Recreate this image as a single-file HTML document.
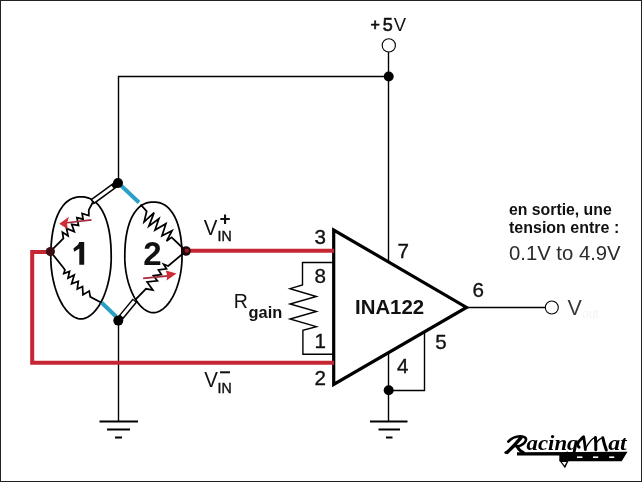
<!DOCTYPE html>
<html><head><meta charset="utf-8">
<style>
html,body{margin:0;padding:0;background:#fff;}
body{width:642px;height:482px;overflow:hidden;position:relative;}
svg{position:absolute;left:0;top:0;display:block;will-change:transform;}
text{font-family:"Liberation Sans",sans-serif;}
</style></head>
<body>
<svg width="642" height="482" viewBox="0 0 642 482">
<rect x="0" y="0" width="642" height="482" fill="#fff"/>
<!-- border -->
<rect x="0.5" y="0.5" width="641" height="481" fill="none" stroke="#222" stroke-width="1"/>

<g fill="none" stroke="#000" stroke-width="1.4">
  <!-- top wires -->
  <polyline points="118.5,183 118.5,76.5 388.5,76.5"/>
  <line x1="388.5" y1="52" x2="388.5" y2="262"/>
  <circle cx="388.8" cy="45.4" r="6.6" stroke-width="1.1"/>
  <!-- bottom wire to ground -->
  <line x1="118.5" y1="320" x2="118.5" y2="421.5"/>
  <!-- ground 4 -->
  <polyline points="388.5,352 388.5,421.5"/>
  <polyline points="424.5,331.5 424.5,390.5 388.5,390.5"/>
  <!-- output -->
  <line x1="467" y1="307.5" x2="545.3" y2="307.5"/>
  <circle cx="551.8" cy="307.5" r="6.5" stroke-width="1.1"/>
  <!-- rgain box -->
  <polyline points="333,262.5 302.5,262.5 302.5,285 290,288.7 316.4,296.5 290,304 316.4,311.5 290,319 316.4,326.7 302.9,330.3 302.9,354.3 333,354.3"/>
</g>
<!-- grounds -->
<g stroke="#000" stroke-width="2">
  <line x1="99.5" y1="421.5" x2="138" y2="421.5"/>
  <line x1="107" y1="429.5" x2="130" y2="429.5"/>
  <line x1="115" y1="437.5" x2="122" y2="437.5"/>
  <line x1="370" y1="421.5" x2="407.5" y2="421.5"/>
  <line x1="378.5" y1="429.5" x2="400" y2="429.5"/>
  <line x1="386" y1="437.5" x2="392.5" y2="437.5"/>
</g>
<!-- triangle -->
<polygon points="333.7,230 333.7,384.5 466.5,307.4" fill="none" stroke="#000" stroke-width="3.2" stroke-linejoin="miter"/>

<!-- ellipses -->
<g fill="none" stroke="#000" stroke-width="1.75">
  <path d="M111.20,257.90 L111.16,260.63 L111.03,263.56 L110.81,266.55 L110.51,269.58 L110.12,272.60 L109.65,275.62 L109.09,278.61 L108.46,281.56 L107.75,284.47 L106.96,287.31 L106.09,290.08 L105.16,292.77 L104.16,295.36 L103.10,297.86 L101.97,300.25 L100.78,302.53 L99.55,304.68 L98.26,306.70 L96.93,308.59 L95.56,310.33 L94.15,311.92 L92.72,313.36 L91.25,314.64 L89.77,315.76 L88.28,316.71 L86.78,317.50 L85.28,318.11 L83.80,318.55 L82.35,318.81 L81.00,318.90 L79.65,318.81 L78.20,318.55 L76.72,318.11 L75.22,317.50 L73.72,316.71 L72.23,315.76 L70.75,314.64 L69.28,313.36 L67.85,311.92 L66.44,310.33 L65.07,308.59 L63.74,306.70 L62.45,304.68 L61.22,302.53 L60.03,300.25 L58.90,297.86 L57.84,295.36 L56.84,292.77 L55.91,290.08 L55.04,287.31 L54.25,284.47 L53.54,281.56 L52.91,278.61 L52.35,275.62 L51.88,272.60 L51.49,269.58 L51.19,266.55 L50.97,263.56 L50.84,260.63 L50.80,257.90 L50.84,253.21 L50.94,249.34 L51.12,245.75 L51.37,242.33 L51.70,239.07 L52.09,235.93 L52.55,232.91 L53.08,230.00 L53.68,227.20 L54.35,224.51 L55.08,221.94 L55.88,219.47 L56.75,217.12 L57.67,214.89 L58.66,212.77 L59.71,210.78 L60.81,208.91 L61.97,207.17 L63.20,205.55 L64.47,204.07 L65.80,202.72 L67.19,201.51 L68.63,200.44 L70.12,199.50 L71.68,198.71 L73.29,198.06 L74.98,197.55 L76.76,197.19 L78.68,196.97 L81.00,196.90 L83.32,196.97 L85.24,197.19 L87.02,197.55 L88.71,198.06 L90.32,198.71 L91.88,199.50 L93.37,200.44 L94.81,201.51 L96.20,202.72 L97.53,204.07 L98.80,205.55 L100.03,207.17 L101.19,208.91 L102.29,210.78 L103.34,212.77 L104.33,214.89 L105.25,217.12 L106.12,219.47 L106.92,221.94 L107.65,224.51 L108.32,227.20 L108.92,230.00 L109.45,232.91 L109.91,235.93 L110.30,239.07 L110.63,242.33 L110.88,245.75 L111.06,249.34 L111.16,253.21Z"/>
  <path d="M182.00,257.40 L181.96,259.88 L181.84,262.53 L181.63,265.25 L181.34,267.99 L180.98,270.73 L180.53,273.46 L180.00,276.18 L179.40,278.85 L178.73,281.48 L177.98,284.06 L177.16,286.57 L176.28,289.01 L175.33,291.36 L174.32,293.63 L173.26,295.80 L172.14,297.86 L170.97,299.81 L169.75,301.64 L168.49,303.35 L167.19,304.93 L165.86,306.37 L164.49,307.68 L163.11,308.84 L161.71,309.85 L160.29,310.72 L158.87,311.43 L157.46,311.98 L156.05,312.38 L154.68,312.62 L153.40,312.70 L152.12,312.62 L150.75,312.38 L149.34,311.98 L147.93,311.43 L146.51,310.72 L145.09,309.85 L143.69,308.84 L142.31,307.68 L140.94,306.37 L139.61,304.93 L138.31,303.35 L137.05,301.64 L135.83,299.81 L134.66,297.86 L133.54,295.80 L132.48,293.63 L131.47,291.36 L130.52,289.01 L129.64,286.57 L128.82,284.06 L128.07,281.48 L127.40,278.85 L126.80,276.18 L126.27,273.46 L125.82,270.73 L125.46,267.99 L125.17,265.25 L124.96,262.53 L124.84,259.88 L124.80,257.40 L124.83,253.15 L124.94,249.64 L125.11,246.38 L125.34,243.29 L125.65,240.33 L126.02,237.48 L126.46,234.74 L126.96,232.11 L127.53,229.57 L128.16,227.13 L128.86,224.80 L129.61,222.56 L130.43,220.43 L131.31,218.41 L132.24,216.49 L133.23,214.68 L134.28,212.99 L135.38,211.41 L136.54,209.94 L137.75,208.60 L139.01,207.38 L140.32,206.28 L141.68,205.31 L143.10,204.46 L144.57,203.74 L146.10,203.15 L147.70,202.69 L149.39,202.36 L151.20,202.17 L153.40,202.10 L155.60,202.17 L157.41,202.36 L159.10,202.69 L160.70,203.15 L162.23,203.74 L163.70,204.46 L165.12,205.31 L166.48,206.28 L167.79,207.38 L169.05,208.60 L170.26,209.94 L171.42,211.41 L172.52,212.99 L173.57,214.68 L174.56,216.49 L175.49,218.41 L176.37,220.43 L177.19,222.56 L177.94,224.80 L178.64,227.13 L179.27,229.57 L179.84,232.11 L180.34,234.74 L180.78,237.48 L181.15,240.33 L181.46,243.29 L181.69,246.38 L181.86,249.64 L181.97,253.15Z"/>
</g>

<!-- red wires -->
<g fill="none" stroke="#c62533" stroke-width="4">
  <polyline points="50,252 32.2,252 32.2,362.7 334,362.7"/>
  <line x1="186" y1="250.8" x2="334" y2="250.8"/>
</g>

<!-- blue segments -->
<g stroke="#2aa0c6" stroke-width="4">
  <line x1="121" y1="185.5" x2="139" y2="202.5"/>
  <line x1="101.5" y1="302.5" x2="116" y2="316.5"/>
</g>

<!-- double lines -->
<g stroke="#000" stroke-width="6">
  <line x1="118" y1="183" x2="92" y2="202"/>
  <line x1="118.3" y1="320.6" x2="135" y2="300.3"/>
</g>
<g stroke="#fff" stroke-width="3">
  <line x1="112.5" y1="187" x2="93.3" y2="201"/>
  <line x1="121.8" y1="316.3" x2="134.2" y2="301.2"/>
</g>

<!-- resistors -->
<g fill="none" stroke="#000" stroke-width="1.75" stroke-linejoin="miter">
  <polyline points="93.5,201 88.8,209.9 88.8,215.6 82.1,213.5 83.1,219.2 76.9,217.6 78.5,225.4 71.7,224.4 74.3,231.6 66.5,228.5 68.1,235.8 62.4,232.2 63.4,238.4 50.4,251.4"/>
  <polyline points="50.4,251.4 63.8,268.3 64.9,269.9 63.8,273.5 69.5,271.4 68,278.2 74.2,275 71.6,283.9 78.3,281.3 77.3,289 82.5,286.5 83,294.8 89.2,291.1 90.3,296.8 101.5,302.7"/>
  <polyline points="140.6,204.5 146.7,211.3 144.1,221.8 154.1,212.6 148.9,226.1 158.9,218.7 155,230 165.9,223.7 162,235.7 172,230.7 166.6,241.1 171.6,237.4 186,251"/>
  <polyline points="186,251 168.2,266 163.6,264.3 166.5,268.8 158.5,270 161.4,274.5 153.4,275.7 157.4,280.8 147.1,282 152.8,290 146,288.8 135.2,299.8"/>
</g>

<!-- dots -->
<g fill="#000">
  <circle cx="118" cy="183" r="5"/>
  <circle cx="118.3" cy="320.6" r="5"/>
  <circle cx="388.7" cy="76.5" r="5"/>
  <circle cx="388.7" cy="390.3" r="5"/>
</g>
<circle cx="50.4" cy="251.6" r="4.6" fill="#3a0d12"/>
<circle cx="186" cy="251" r="4.8" fill="#1c0808"/>
<circle cx="186.8" cy="250.6" r="2.2" fill="#9a1e28"/>

<!-- red arrows -->
<g fill="none" stroke="#a52a3c" stroke-width="1.7">
  <line x1="91.5" y1="219.8" x2="65" y2="223"/>
  <line x1="143.1" y1="278.4" x2="168" y2="275.8"/>
</g>
<g fill="#d02c36">
  <polygon points="59.3,223.8 69,216.8 67,223.2 67.8,229.2"/>
  <polygon points="176.5,273.6 165.8,270.4 167.3,275.8 166.6,280.6"/>
</g>

<!-- text -->
<g fill="#111">
  <text x="370.4" y="29.6" font-size="16" stroke="#111" stroke-width="0.7">+</text><text x="382.8" y="30.7" font-size="18" stroke="#111" stroke-width="0.6">5</text><text x="393.8" y="30.7" font-size="18.5">V</text>
  <text x="314.5" y="243.6" font-size="20.6" stroke="#111" stroke-width="0.35">3</text>
  <text x="397.5" y="257.9" font-size="20.6" stroke="#111" stroke-width="0.35">7</text>
  <text x="314.5" y="282.5" font-size="20.6" stroke="#111" stroke-width="0.35">8</text>
  <text x="314.5" y="347.6" font-size="20.6" stroke="#111" stroke-width="0.35">1</text>
  <text x="314.5" y="384.6" font-size="20.6" stroke="#111" stroke-width="0.35">2</text>
  <text x="472.5" y="297.4" font-size="20.6" stroke="#111" stroke-width="0.35">6</text>
  <text x="435.2" y="349" font-size="20.6" stroke="#111" stroke-width="0.35">5</text>
  <text x="397" y="373" font-size="20.6" stroke="#111" stroke-width="0.35">4</text>
  <text x="355" y="313.8" font-size="20.4" font-weight="bold">INA122</text>
  <text x="233.8" y="308.3" font-size="19.5">R</text>
  <text x="248.6" y="317.9" font-size="16.4" font-weight="bold">gain</text>
  <text x="203.8" y="234.8" font-size="22" textLength="13.7" lengthAdjust="spacingAndGlyphs">V</text>
  <text x="217.6" y="240.6" font-size="14.2" stroke="#111" stroke-width="0.4">IN</text>
  <text x="219.6" y="225.2" font-size="19" font-weight="bold">+</text>
  <text x="204.3" y="386.9" font-size="22" textLength="13.7" lengthAdjust="spacingAndGlyphs">V</text>
  <text x="217.6" y="392.7" font-size="14.2" stroke="#111" stroke-width="0.4">IN</text>
  <rect x="220" y="371.3" width="10" height="2"/>
  <polygon points="79.2,242 84.2,242 84.2,264.8 79.3,264.8 79.3,248.6 74.3,251.8 73.4,248.4 78.2,244.4"/>
  <text x="143.2" y="264.8" font-size="33" font-weight="bold">2</text>
  <text x="509" y="214.9" font-size="15.8" font-weight="bold">en sortie, une</text>
  <text x="509" y="233" font-size="16" font-weight="bold">tension entre :</text>
  <text x="509" y="259.8" font-size="20.3" fill="#2a2a2a">0.1V to 4.9V</text>
  <text x="567.5" y="315" font-size="21.5" fill="#3a3a3a">V</text>
  <text x="582" y="318" font-size="12" fill="#f3f3f3">out</text>
</g>

<!-- logo -->
<g>
  <g fill="none" stroke="#000" stroke-linecap="round" stroke-linejoin="round">
    <path d="M508.3,441.6 C511,438.5 515,436.4 520,436.2 C524.5,436 527,438 525.6,441 C524.3,443.8 520,446 516.6,446.6" stroke-width="2.6"/>
    <path d="M521,437.6 C517,442.5 512,448 507.2,452.3" stroke-width="3.4"/>
    <path d="M505.4,452.6 L508.5,451.4" stroke-width="2.2"/>
    <path d="M517,446.4 C518.5,449 520,451.3 523.5,452.6" stroke-width="3"/>
    <path d="M579.2,447.2 C576.8,445.8 577.4,442.6 580,440.2 C581.4,438.8 582.6,437.2 583.6,436.8 C584.4,441 585,445.5 585.4,449.6" stroke-width="2.8"/>
    <path d="M585.6,448.5 C588.5,443 591.5,438.6 595.4,437.2" stroke-width="1.4"/>
    <path d="M595.4,437.4 C595.8,441.5 595.9,446 595.8,449.8" stroke-width="3"/>
    <path d="M596,443 C598.2,440.2 600.5,438.2 602.8,437.6" stroke-width="1.4"/>
    <path d="M602.8,437.8 C603.6,441.5 604.8,446 606.3,450" stroke-width="3"/>
  </g>
  <text x="526.5" y="450.4" style="font-family:'Liberation Serif',serif;font-style:italic;font-weight:bold;font-size:20px" textLength="52" lengthAdjust="spacingAndGlyphs" fill="#000">acing</text>
  <text x="608.2" y="450.4" style="font-family:'Liberation Serif',serif;font-style:italic;font-weight:bold;font-size:20px" textLength="18.5" lengthAdjust="spacingAndGlyphs" fill="#000">at</text>
  <polygon points="517,452.2 627.5,451.8 621.7,461.3 559.3,461.3 559.3,455.6 517,455.6" fill="#000"/>
  <polygon points="559.3,460.5 568.8,460.5 565,468.2" fill="#000"/>
  <polygon points="561.8,462 566.6,462 564.6,465.6" fill="#fff"/>
  <g fill="#fff">
    <rect x="577" y="456.4" width="5.4" height="1.6"/>
    <rect x="593" y="456.4" width="5.2" height="1.6"/>
    <rect x="609.2" y="456.4" width="5" height="1.6"/>
  </g>
</g>
</svg>
</body></html>
